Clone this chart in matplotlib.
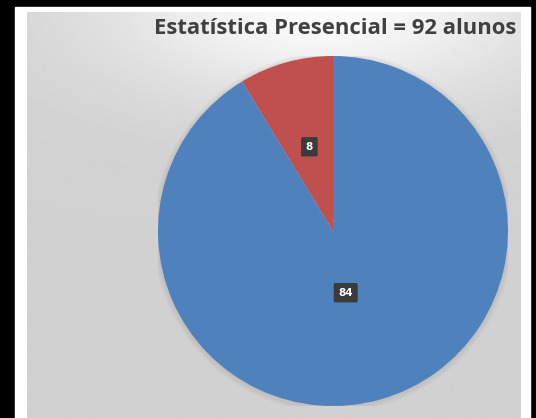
import numpy as np
import matplotlib
matplotlib.use("Agg")
import matplotlib.pyplot as plt
from matplotlib.patches import Rectangle, Circle

# student counts per group
labels = ["Reprovados", "Aprovados"]
counts = [8, 84]
colors = ["#C0504D", "#4F81BD"]
title = "Estatística Presencial = 92 alunos"

W, H = 536, 418
fig = plt.figure(figsize=(W / 100, H / 100), dpi=100, facecolor="black")

# white frame behind the chart area
fig.patches.append(Rectangle((15 / W, 0), (530 - 15) / W, (H - 7) / H,
                             transform=fig.transFigure, color="white", zorder=0))

# gray chart area with a soft light spot at the top
bg = fig.add_axes([27 / W, 0, (521 - 27) / W, (H - 12) / H], zorder=1)
yy, xx = np.mgrid[0:1:300j, 0:1:400j]
glow = np.exp(-(((xx - 0.6) / 0.45) ** 2 + ((yy - 0.0) / 0.22) ** 2))
shade = 0.82 + 0.16 * glow
bg.imshow(shade, cmap="gray", vmin=0, vmax=1, aspect="auto",
          extent=(0, 1, 1, 0))
bg.set_axis_off()

fig.text(335 / W, 1 - 28 / H, title, ha="center", va="center",
         fontsize=15.8, fontweight="bold", family="Open Sans", color="#404040",
         zorder=5)

R = 175
cx, cy = 333, 231
ax = fig.add_axes([(cx - R) / W, (H - cy - R) / H, 2 * R / W, 2 * R / H], zorder=2)
ax.set_axis_off()

# soft shadow under the pie
for k in range(5):
    ax.add_patch(Circle((0, -0.006), 1.0 + 0.006 * (k + 1), color="#909090",
                        alpha=0.05, lw=0, zorder=0))

wedges, _ = ax.pie(counts, colors=colors, startangle=90, counterclock=True,
                   radius=1.0, wedgeprops=dict(linewidth=0))
ax.set_xlim(-1, 1)
ax.set_ylim(-1, 1)

# value labels in dark boxes
dists = [0.5, 0.36]
for w, v, d in zip(wedges, counts, dists):
    ang = np.deg2rad((w.theta1 + w.theta2) / 2 - (4 if v > 40 else 0))
    ax.text(d * np.cos(ang), d * np.sin(ang), str(v), ha="center", va="center",
            fontsize=7.5, fontweight="bold", color="white", family="DejaVu Sans",
            bbox=dict(boxstyle="round,pad=0.45,rounding_size=0.15",
                      fc="#3b3b3b", ec="none"), zorder=5)

fig.savefig("out.png", dpi=100, facecolor="black")
